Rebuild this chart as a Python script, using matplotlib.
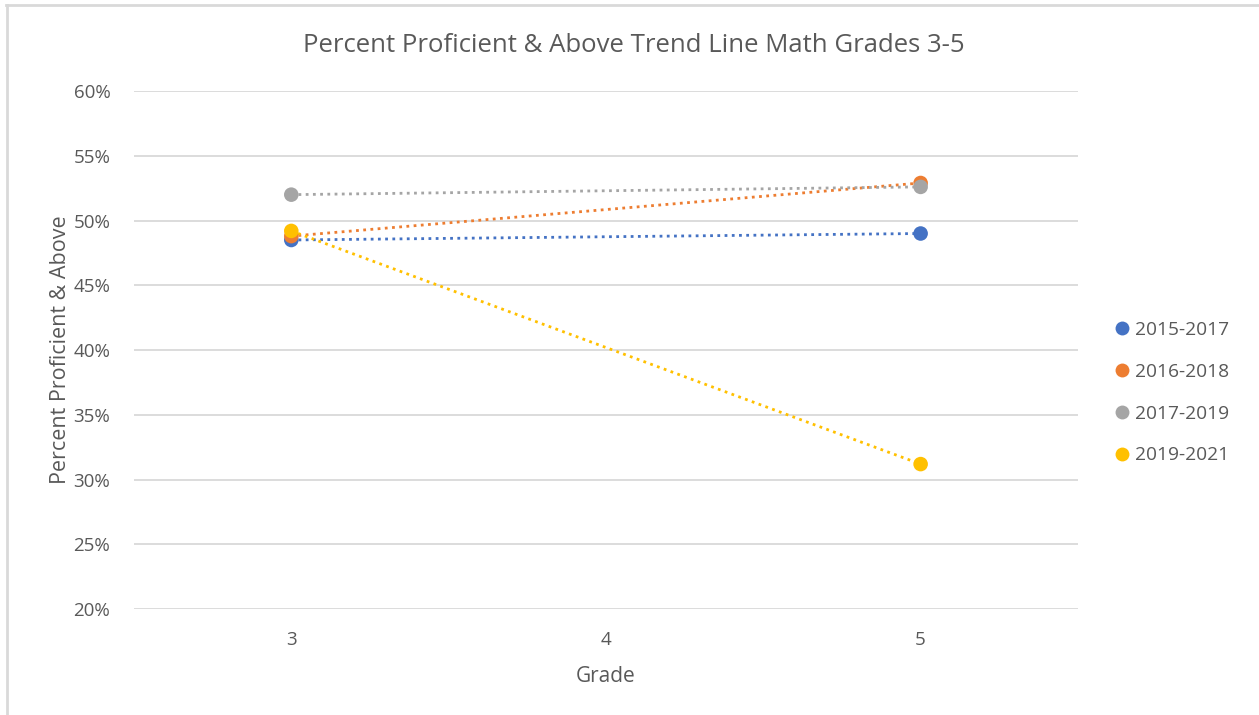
import numpy as np
import matplotlib
matplotlib.use("Agg")
import matplotlib.pyplot as plt
from matplotlib.ticker import FuncFormatter
from matplotlib.lines import Line2D

grades = [3, 5]
series = ["2015-2017", "2016-2018", "2017-2019", "2019-2021"]
values = {
    "2015-2017": [48.5, 49.0],
    "2016-2018": [48.8, 52.9],
    "2017-2019": [52.0, 52.6],
    "2019-2021": [49.2, 31.2],
}
colors = ["#4472C4", "#ED7D31", "#A5A5A5", "#FFC000"]

plt.rcParams['font.family'] = ['Open Sans', 'DejaVu Sans']
text_color = "#595959"

fig = plt.figure(figsize=(12.59, 7.15), dpi=100)
ax = fig.add_axes([0.1064, 0.148, 0.7498, 0.7247])

x = np.array(grades, dtype=float)
for name, c in zip(series, colors):
    y = np.array(values[name])
    # linear trend line through the points, dotted like Excel
    coef = np.polyfit(x, y, 1)
    xt = np.linspace(x.min(), x.max(), 50)
    ax.plot(xt, np.polyval(coef, xt), color=c, lw=2, linestyle=(0, (1, 1.6)), zorder=3)
    ax.scatter(x, y, s=110, color=c, zorder=4, edgecolors='none')

ax.set_xlim(2.5, 5.5)
ax.set_ylim(20, 60)
ax.set_xticks([3, 4, 5])
ax.set_yticks(np.arange(20, 61, 5))
ax.yaxis.set_major_formatter(FuncFormatter(lambda v, p: f"{v:.0f}%"))
ax.grid(axis='y', color="#d9d9d9", lw=1.3)
ax.set_axisbelow(True)
for s in ax.spines.values():
    s.set_visible(False)
ax.tick_params(length=0, labelsize=13.5, colors=text_color)
ax.tick_params(axis='y', pad=17)
ax.tick_params(axis='x', pad=16)

fig.text(0.5036, 0.937, "Percent Proficient & Above Trend Line Math Grades 3-5",
         fontsize=18.5, color=text_color, ha='center', va='center')
ax.set_xlabel("Grade", fontsize=15, color=text_color, labelpad=12)
ax.set_ylabel("Percent Proficient & Above", fontsize=15.5, color=text_color, labelpad=2)

handles = [Line2D([], [], marker='o', linestyle='none', color=c, markersize=10,
                  markeredgewidth=0) for c in colors]
fig.legend(handles, series, loc='center left', bbox_to_anchor=(0.8695, 0.451),
           frameon=False, fontsize=13.8, labelcolor=text_color, handletextpad=0.2,
           labelspacing=1.25, handlelength=1.0)

# chart area border (top and left visible)
fig.add_artist(Line2D([0.005, 1.0], [0.993, 0.993], color="#d9d9d9", lw=2,
                      transform=fig.transFigure))
fig.add_artist(Line2D([0.0056, 0.0056], [0.0, 0.993], color="#d9d9d9", lw=2,
                      transform=fig.transFigure))

fig.savefig("out.png", dpi=100)
